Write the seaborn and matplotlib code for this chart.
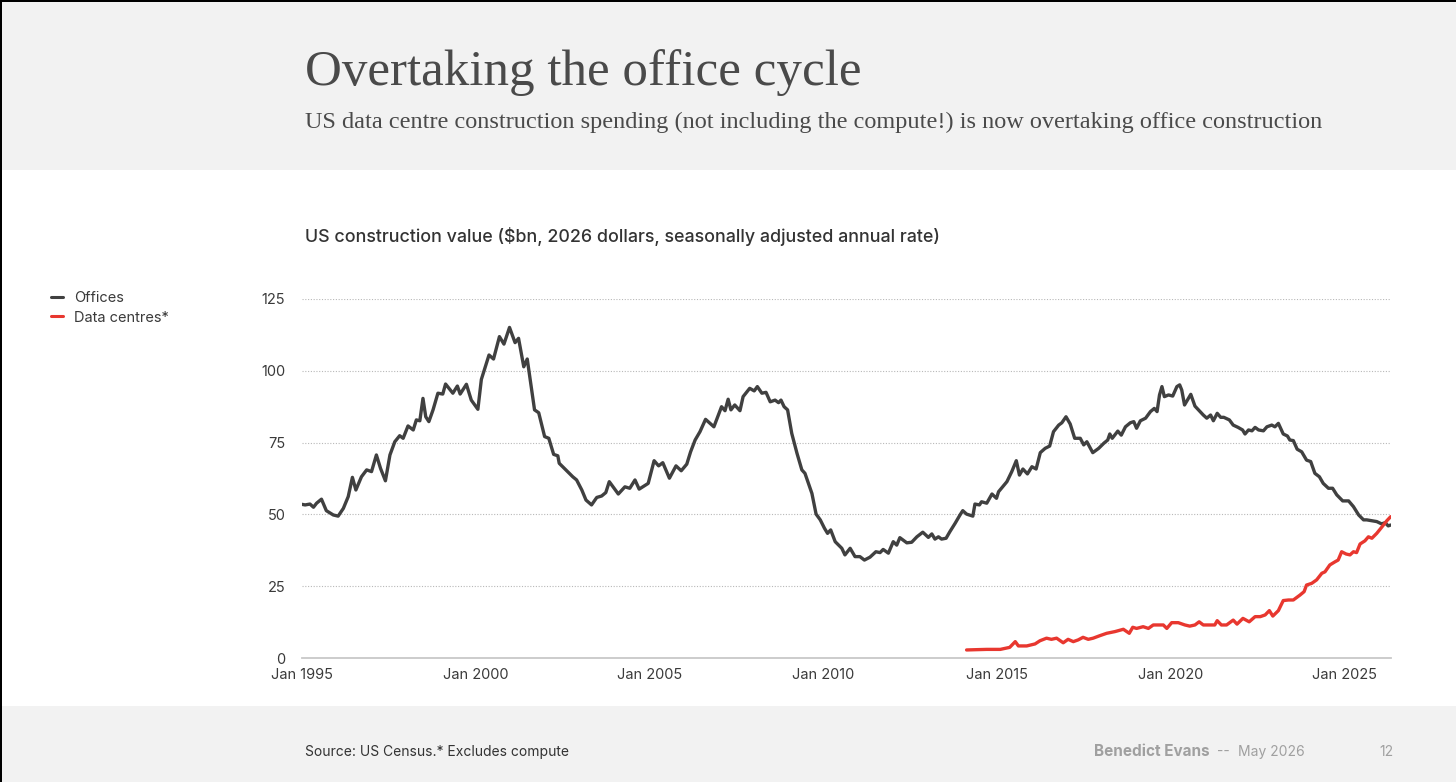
import matplotlib
matplotlib.use("Agg")
import matplotlib.pyplot as plt
import seaborn as sns
import pandas as pd

# offices, $bn (decimal year)
off_year = [1995.00, 1995.09, 1995.23, 1995.33, 1995.42, 1995.56, 1995.70, 1995.90, 1996.04, 1996.19,
            1996.33, 1996.45, 1996.55, 1996.71, 1996.86, 1997.00, 1997.14, 1997.26, 1997.40, 1997.53,
            1997.67, 1997.81, 1997.91, 1998.05, 1998.20, 1998.29, 1998.39, 1998.48, 1998.56, 1998.65,
            1998.77, 1998.91, 1999.05, 1999.13, 1999.34, 1999.47, 1999.55, 1999.73, 1999.87, 2000.06,
            2000.16, 2000.38, 2000.51, 2000.68, 2000.81, 2000.97, 2001.13, 2001.23, 2001.38, 2001.48,
            2001.69, 2001.81, 2001.98, 2002.10, 2002.24, 2002.36, 2002.40, 2002.79, 2002.90, 2003.05,
            2003.17, 2003.33, 2003.48, 2003.62, 2003.74, 2003.84, 2003.95, 2004.10, 2004.29, 2004.43,
            2004.58, 2004.70, 2004.96, 2005.13, 2005.26, 2005.38, 2005.57, 2005.76, 2005.91, 2006.07,
            2006.18, 2006.31, 2006.45, 2006.61, 2006.85, 2007.07, 2007.17, 2007.26, 2007.34, 2007.45,
            2007.60, 2007.69, 2007.88, 2008.01, 2008.10, 2008.23, 2008.35, 2008.47, 2008.61, 2008.71,
            2008.78, 2008.87, 2008.97, 2009.09, 2009.24, 2009.38, 2009.47, 2009.67, 2009.79, 2009.91,
            2010.03, 2010.12, 2010.21, 2010.34, 2010.53, 2010.62, 2010.77, 2010.91, 2011.05, 2011.18,
            2011.34, 2011.51, 2011.63, 2011.72, 2011.87, 2012.01, 2012.11, 2012.20, 2012.40, 2012.54,
            2012.69, 2012.86, 2013.02, 2013.12, 2013.21, 2013.31, 2013.40, 2013.53, 2013.64, 2013.79,
            2013.93, 2014.01, 2014.12, 2014.30, 2014.36, 2014.49, 2014.55, 2014.70, 2014.85, 2014.98,
            2015.04, 2015.28, 2015.42, 2015.55, 2015.64, 2015.74, 2015.87, 2016.00, 2016.12, 2016.24,
            2016.38, 2016.51, 2016.62, 2016.77, 2016.86, 2016.98, 2017.10, 2017.23, 2017.39, 2017.49,
            2017.58, 2017.75, 2017.92, 2018.07, 2018.18, 2018.24, 2018.31, 2018.47, 2018.57, 2018.69,
            2018.83, 2018.93, 2019.01, 2019.12, 2019.27, 2019.41, 2019.52, 2019.60, 2019.67, 2019.74,
            2019.81, 2019.93, 2020.05, 2020.17, 2020.25, 2020.31, 2020.39, 2020.57, 2020.69, 2020.79,
            2020.93, 2021.03, 2021.14, 2021.22, 2021.33, 2021.43, 2021.52, 2021.68, 2021.79, 2021.93,
            2022.06, 2022.13, 2022.23, 2022.33, 2022.42, 2022.52, 2022.66, 2022.76, 2022.90, 2022.99,
            2023.09, 2023.23, 2023.35, 2023.42, 2023.52, 2023.63, 2023.76, 2023.90, 2024.02, 2024.14,
            2024.27, 2024.38, 2024.53, 2024.65, 2024.77, 2024.94, 2025.11, 2025.25, 2025.40, 2025.54,
            2025.63, 2025.78, 2025.92, 2026.06, 2026.16, 2026.25, 2026.32]
off_val = [53.5, 53.3, 53.6, 52.5, 53.9, 55.3, 51.3, 49.8, 49.4, 52.1,
           56.2, 62.9, 58.5, 63.1, 65.5, 64.9, 70.7, 66.0, 61.7, 70.7,
           75.3, 77.4, 76.5, 80.8, 79.4, 82.9, 82.6, 90.4, 84.0, 82.3,
           86.4, 92.2, 91.9, 95.4, 92.2, 94.7, 91.9, 95.3, 89.8, 86.6,
           97.0, 105.5, 104.1, 111.9, 109.3, 115.1, 109.8, 111.3, 101.4, 104.1,
           86.4, 85.4, 77.1, 76.5, 70.9, 70.4, 67.8, 63.1, 62.0, 58.5,
           55.0, 53.3, 55.9, 56.4, 57.6, 61.4, 59.6, 57.1, 59.6, 59.1,
           62.0, 58.8, 60.8, 68.7, 66.9, 68.0, 62.6, 66.9, 65.2, 67.5,
           71.8, 75.9, 78.8, 83.1, 80.5, 87.5, 86.1, 90.1, 86.4, 88.1,
           86.1, 91.0, 93.9, 93.0, 94.5, 92.2, 92.5, 89.2, 89.8, 88.9,
           89.8, 87.5, 86.4, 78.2, 71.3, 65.5, 64.3, 57.3, 50.1, 48.1,
           45.2, 43.4, 44.6, 40.5, 38.2, 35.9, 38.2, 35.3, 35.3, 34.1,
           35.1, 37.0, 36.7, 37.8, 36.5, 40.5, 39.3, 41.9, 40.1, 40.3,
           42.2, 43.8, 42.0, 43.2, 41.4, 42.2, 41.4, 41.7, 44.0, 46.9,
           49.8, 51.3, 50.1, 49.4, 53.6, 53.3, 54.4, 53.9, 57.1, 55.6,
           57.9, 61.4, 64.9, 68.7, 63.7, 65.8, 64.1, 66.6, 65.8, 71.5,
           73.0, 73.8, 78.8, 81.1, 81.9, 84.0, 81.5, 76.5, 76.5, 74.2,
           75.3, 71.5, 73.0, 74.8, 75.9, 78.0, 76.5, 79.0, 77.6, 80.5,
           81.9, 82.3, 80.0, 82.6, 83.5, 85.8, 86.9, 85.8, 91.6, 94.5,
           91.0, 91.6, 91.2, 94.5, 95.1, 93.3, 88.1, 91.8, 87.7, 86.4,
           84.6, 83.5, 84.6, 82.6, 85.2, 83.8, 83.8, 82.9, 81.1, 80.3,
           79.4, 78.0, 79.4, 79.1, 80.3, 79.4, 79.1, 80.5, 81.1, 80.5,
           81.7, 78.0, 77.3, 75.9, 75.7, 72.7, 71.8, 68.9, 68.4, 64.3,
           63.1, 60.8, 59.1, 59.1, 56.8, 54.7, 54.7, 52.7, 49.8, 48.1,
           48.1, 47.8, 47.5, 46.7, 47.1, 46.0, 46.3]

# data centres, $bn
dc_year = [2014.12, 2014.40, 2014.70, 2015.09, 2015.36, 2015.52, 2015.61, 2015.85, 2016.09, 2016.23,
           2016.42, 2016.56, 2016.71, 2016.90, 2017.04, 2017.19, 2017.33, 2017.47, 2017.62, 2017.76,
           2017.96, 2018.15, 2018.39, 2018.63, 2018.80, 2018.90, 2019.01, 2019.20, 2019.35, 2019.49,
           2019.78, 2019.88, 2020.02, 2020.21, 2020.40, 2020.54, 2020.69, 2020.81, 2020.93, 2021.12,
           2021.26, 2021.33, 2021.45, 2021.60, 2021.79, 2021.90, 2022.07, 2022.25, 2022.42, 2022.57,
           2022.71, 2022.83, 2022.93, 2023.09, 2023.23, 2023.38, 2023.52, 2023.71, 2023.83, 2023.90,
           2024.05, 2024.19, 2024.34, 2024.43, 2024.57, 2024.72, 2024.81, 2024.91, 2025.04, 2025.15,
           2025.25, 2025.34, 2025.44, 2025.58, 2025.68, 2025.78, 2025.92, 2026.06, 2026.21, 2026.32]
dc_val = [2.8, 2.9, 3.0, 3.0, 3.7, 5.7, 4.2, 4.2, 4.9, 6.0,
          6.9, 6.5, 6.9, 5.3, 6.5, 5.7, 6.3, 7.2, 6.5, 6.9,
          7.8, 8.6, 9.2, 10.0, 8.6, 10.7, 10.3, 10.9, 10.3, 11.5,
          11.5, 10.3, 12.3, 12.3, 11.5, 11.1, 11.5, 12.6, 11.5, 11.5,
          11.5, 13.0, 11.5, 11.5, 13.2, 11.8, 13.8, 12.6, 14.4, 14.4,
          15.0, 16.5, 14.6, 16.5, 20.0, 20.2, 20.2, 21.9, 23.1, 25.4,
          26.0, 27.2, 29.5, 30.0, 32.4, 33.5, 34.1, 37.0, 36.2, 35.9,
          37.0, 36.7, 39.7, 40.8, 42.2, 41.7, 43.4, 45.5, 47.8, 49.2]

x_ticks = [1995, 2000, 2005, 2010, 2015, 2020, 2025]
x_labels = ["Jan 1995", "Jan 2000", "Jan 2005", "Jan 2010", "Jan 2015", "Jan 2020", "Jan 2025"]
y_ticks = [0, 25, 50, 75, 100, 125]

df = pd.concat([
    pd.DataFrame({"date": off_year, "value": off_val, "series": "Offices"}),
    pd.DataFrame({"date": dc_year, "value": dc_val, "series": "Data centres*"}),
])

sns.set_theme(style="white")
plt.rcParams['font.family'] = ['Inter', 'DejaVu Sans']

W, H = 1456, 782
fig = plt.figure(figsize=(W / 100, H / 100), dpi=100)
fig.patch.set_facecolor("white")

# grey header / footer bands and the thin black frame
fig.add_artist(plt.Rectangle((0, 1 - 170 / H), 1, 170 / H, transform=fig.transFigure,
                             facecolor="#f2f2f2", edgecolor="none", zorder=0))
fig.add_artist(plt.Rectangle((0, 0), 1, 76 / H, transform=fig.transFigure,
                             facecolor="#f2f2f2", edgecolor="none", zorder=0))
fig.add_artist(plt.Rectangle((0, 1 - 2 / H), 1, 2 / H, transform=fig.transFigure,
                             facecolor="black", edgecolor="none", zorder=5))
fig.add_artist(plt.Rectangle((0, 0), 1.5 / W, 1, transform=fig.transFigure,
                             facecolor="black", edgecolor="none", zorder=5))

ax = fig.add_axes([302 / W, 1 - 658 / H, (1391 - 302) / W, (658 - 299) / H])
ax.set_facecolor("none")

palette = {"Offices": "#404040", "Data centres*": "#e8372f"}
sns.lineplot(data=df, x="date", y="value", hue="series", palette=palette,
             linewidth=2.4, ax=ax, legend=False)

ax.set_xlim(1995, 2026.33)
ax.set_ylim(0, 125)
ax.set_xticks(x_ticks)
ax.set_xticklabels(x_labels)
ax.set_yticks(y_ticks)
ax.set_xlabel("")
ax.set_ylabel("")
ax.tick_params(axis="both", length=0, labelsize=10.5, colors="#3a3a3a")
ax.tick_params(axis="y", pad=12)
ax.tick_params(axis="x", pad=7)
for s in ["top", "right", "left"]:
    ax.spines[s].set_visible(False)
ax.spines["bottom"].set_color("#c8c8c8")
ax.spines["bottom"].set_linewidth(1.3)
for y in y_ticks[1:]:
    ax.axhline(y, color="#b8b8b8", linewidth=0.8, linestyle=(0, (1, 1.5)), zorder=0)

# legend, top left
handles = [plt.Line2D([], [], color=palette[k], linewidth=2.2) for k in palette]
fig.legend(handles, list(palette), loc="upper left", bbox_to_anchor=(51 / W, 1 - 291 / H),
           frameon=False, fontsize=10.5, handlelength=0.85, handletextpad=0.75,
           labelspacing=0.38, labelcolor="#3a3a3a", borderaxespad=0, borderpad=0)

serif = ['Liberation Serif']
fig.text(305 / W, 1 - 85 / H, "Overtaking the office cycle", family=serif,
         fontsize=36.7, color="#4a4a4a", va="baseline")
fig.text(305 / W, 1 - 128 / H,
         "US data centre construction spending (not including the compute!) is now overtaking office construction",
         family=serif, fontsize=17.5, color="#4a4a4a", va="baseline")
fig.text(305 / W, 1 - 242 / H,
         "US construction value ($bn, 2026 dollars, seasonally adjusted annual rate)",
         fontsize=12.85, fontweight="medium", color="#333333", va="baseline")

fig.text(305 / W, 1 - 756 / H, "Source: US Census.* Excludes compute",
         fontsize=10, color="#333333", va="baseline")
fig.text(1094 / W, 1 - 756 / H, "Benedict Evans", fontsize=11, fontweight="bold",
         color="#a0a0a0", va="baseline")
fig.text(1217 / W, 1 - 756 / H, "--", fontsize=10, color="#a0a0a0", va="baseline")
fig.text(1238 / W, 1 - 756 / H, "May 2026", fontsize=10, color="#a0a0a0", va="baseline")
fig.text(1393 / W, 1 - 756 / H, "12", fontsize=10, color="#a0a0a0", va="baseline", ha="right")

fig.savefig("out.png", dpi=100)
